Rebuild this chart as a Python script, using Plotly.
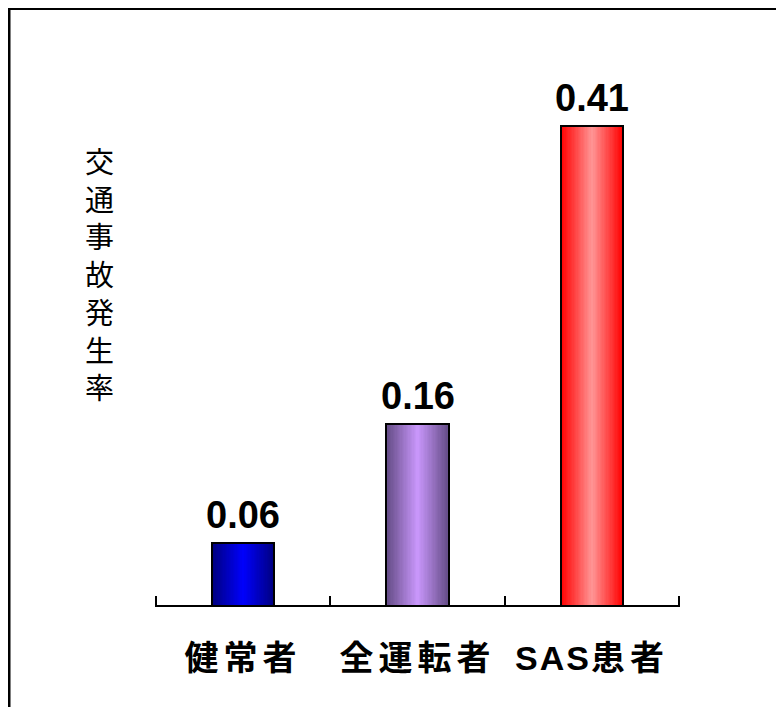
import plotly.graph_objects as go

categories = ["健常者", "全運転者", "SAS患者"]
values = [0.06, 0.16, 0.41]
value_labels = ["0.06", "0.16", "0.41"]
edge_colors = [(0, 0, 128), (100, 76, 134), (255, 0, 0)]
center_colors = [(0, 0, 255), (204, 153, 255), (255, 153, 153)]
y_title = "交通事故発生率"

W, H = 784, 707
OFF = 8  # page body margin
ML, MR, MT, MB = 155 - OFF, 784 - 680 + OFF, 42, 707 - 605 + OFF
BAR_W = 0.36
N = 24
pw = W - ML - MR
ph = H - MT - MB

xpos = list(range(len(categories)))
boundaries = [i - 0.5 for i in range(len(categories) + 1)]


def px_x(x):
    return (x - OFF - ML) / pw


def px_y(y):
    return (H - MB - (y - OFF)) / ph


def spaced(label):
    out, run, cjk = [], "", None
    for ch in label:
        is_cjk = ord(ch) > 0x2E80
        if cjk is None or is_cjk == cjk:
            run += ch
        else:
            out.append((run, cjk))
            run = ch
        cjk = is_cjk
    out.append((run, cjk))
    return "".join(
        f'<span style="letter-spacing:{5 if c else 2}px">{r}</span>' for r, c in out
    )


fig = go.Figure()

for i in range(N):
    t = i / N
    cols = []
    for e, c in zip(edge_colors, center_colors):
        r = [round(e[k] + (c[k] - e[k]) * t) for k in range(3)]
        cols.append(f"rgb({r[0]},{r[1]},{r[2]})")
    fig.add_trace(go.Bar(
        x=xpos, y=values,
        width=BAR_W * (1 - t),
        marker=dict(color=cols, line=dict(width=0)),
        hoverinfo="skip", showlegend=False,
    ))

# outline
fig.add_trace(go.Bar(
    x=xpos, y=values, width=BAR_W,
    marker=dict(color="rgba(0,0,0,0)", line=dict(color="black", width=2)),
    showlegend=False, hoverinfo="skip",
))

for xp, v, lab in zip(xpos, values, value_labels):
    fig.add_annotation(x=xp, y=v, text=f"<b>{lab}</b>", showarrow=False,
                       yanchor="bottom", yshift=5,
                       font=dict(family="Liberation Sans, Arial, sans-serif", size=38, color="black"))

# vertical (stacked) axis title
fig.add_annotation(xref="paper", yref="paper", x=px_x(99), y=px_y(273),
                   text="<br>".join(list(y_title)), showarrow=False,
                   xanchor="center", yanchor="middle",
                   font=dict(family="Noto Sans CJK JP, sans-serif", size=29, color="black"))

fig.add_shape(type="rect", xref="paper", yref="paper",
              x0=px_x(9), x1=px_x(W + 30),
              y0=px_y(H + 30), y1=px_y(8.5),
              line=dict(color="black", width=3), fillcolor="rgba(0,0,0,0)", layer="below")

fig.update_layout(
    width=W, height=H,
    margin=dict(l=ML, r=MR, t=MT, b=MB),
    barmode="overlay", bargap=0,
    plot_bgcolor="white", paper_bgcolor="white",
    showlegend=False,
    xaxis=dict(range=[-0.505, 2.505],
               showline=True, linecolor="black", linewidth=2,
               ticks="", showgrid=False, zeroline=False,
               tickmode="array", tickvals=xpos, ticktext=[spaced(c) for c in categories],
               tickfont=dict(family="Liberation Sans, Noto Sans CJK JP, sans-serif", size=34,
                             color="black", weight="bold"),
               ticklabelstandoff=22,
               minor=dict(tickmode="array", tickvals=boundaries, ticks="inside",
                          ticklen=9, tickwidth=1.5, tickcolor="black", showgrid=False)),
    yaxis=dict(range=[0.0084, 0.0084 + ph / 1192], visible=False, showgrid=False, zeroline=False),
)

fig.write_html("out.html")
